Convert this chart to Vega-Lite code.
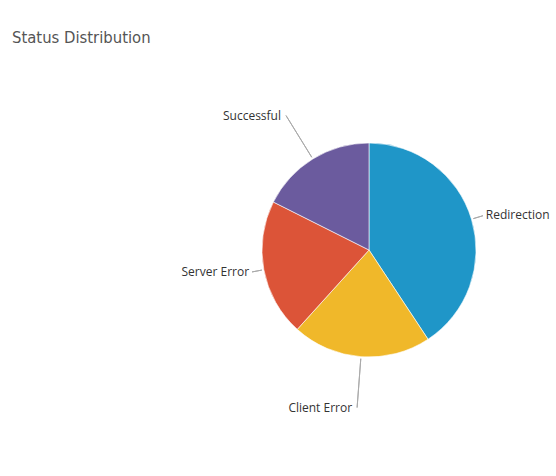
{
  "$schema": "https://vega.github.io/schema/vega-lite/v6.json",
  "autosize": "none",
  "width": 374,
  "height": 400,
  "padding": {"left": 182, "top": 50, "right": 0, "bottom": 0},
  "background": "white",
  "title": {
    "text": "Status Distribution",
    "anchor": "start",
    "frame": "group",
    "dx": -170,
    "offset": -9,
    "baseline": "alphabetic",
    "font": "DejaVu Sans Condensed, Roboto",
    "fontSize": 16.5,
    "fontWeight": "normal",
    "color": "#555555"
  },
  "data": {
    "values": [
      {"status": "Redirection", "share": 40.7},
      {"status": "Client Error", "share": 21.0},
      {"status": "Server Error", "share": 20.7},
      {"status": "Successful", "share": 17.6}
    ]
  },
  "encoding": {
    "theta": {"field": "share", "type": "quantitative", "stack": true},
    "order": {"field": "share", "sort": "descending"}
  },
  "layer": [
    {
      "mark": {"type": "arc", "outerRadius": 107, "stroke": "white", "strokeWidth": 0.6},
      "encoding": {
        "color": {
          "field": "status",
          "type": "nominal",
          "scale": {
            "domain": ["Redirection", "Client Error", "Server Error", "Successful"],
            "range": ["#1f96c8", "#f0b82a", "#dc5438", "#6b5b9e"]
          },
          "legend": null
        }
      }
    },
    {
      "mark": {"type": "arc", "innerRadius": 109, "outerRadius": 119, "padAngle": 3, "fill": "transparent", "stroke": "#aaaaaa", "strokeWidth": 1},
      "encoding": {
        "strokeOpacity": {"condition": {"test": "datum.status === 'Redirection' || datum.status === 'Server Error'", "value": 1}, "value": 0}
      }
    },
    {
      "mark": {"type": "arc", "innerRadius": 109, "outerRadius": 158, "padAngle": 3, "fill": "transparent", "stroke": "#aaaaaa", "strokeWidth": 1},
      "encoding": {
        "strokeOpacity": {"condition": {"test": "datum.status === 'Client Error' || datum.status === 'Successful'", "value": 1}, "value": 0}
      }
    },
    {
      "mark": {"type": "text", "radius": 122, "align": "right", "baseline": "middle", "font": "Open Sans", "fontSize": 12, "fill": "#333333"},
      "encoding": {
        "text": {"condition": {"test": "datum.status === 'Server Error'", "field": "status"}, "value": ""}
      }
    },
    {
      "mark": {"type": "text", "radius": 122, "align": "left", "baseline": "middle", "font": "Open Sans", "fontSize": 12, "fill": "#333333"},
      "encoding": {
        "text": {"condition": {"test": "datum.status === 'Redirection'", "field": "status"}, "value": ""}
      }
    },
    {
      "mark": {"type": "text", "radius": 158, "align": "right", "baseline": "middle", "dx": -5, "font": "Open Sans", "fontSize": 12, "fill": "#333333"},
      "encoding": {
        "text": {"condition": {"test": "datum.status === 'Client Error' || datum.status === 'Successful'", "field": "status"}, "value": ""}
      }
    }
  ],
  "config": {"view": {"stroke": null}}
}
